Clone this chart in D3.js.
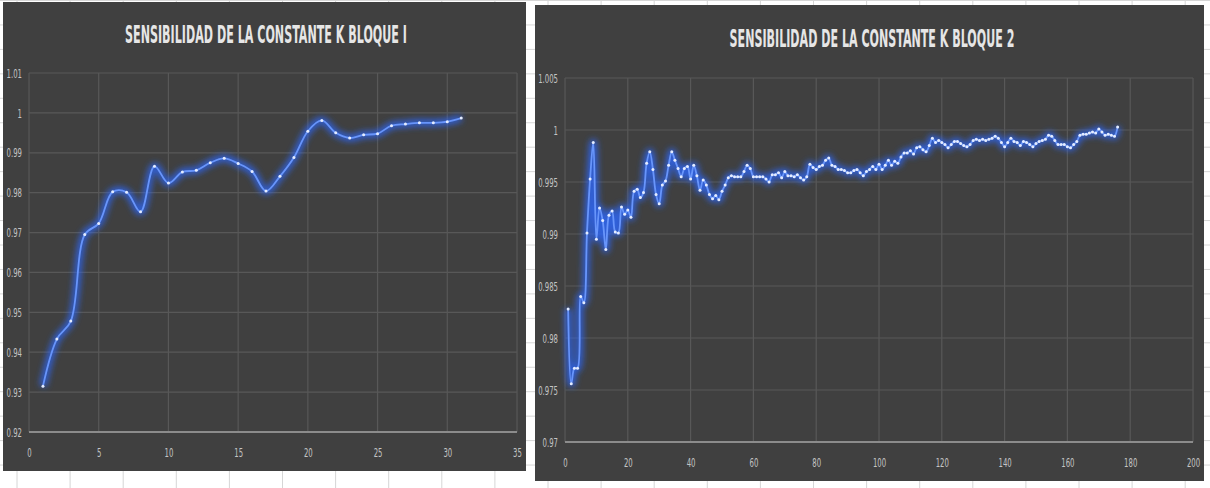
<!DOCTYPE html>
<html>
<head>
<meta charset="utf-8">
<script src="https://cdn.jsdelivr.net/npm/d3@7"></script>
<style>
  html, body { margin: 0; padding: 0; background: #ffffff; }
  svg { display: block; }
  text { font-family: "Liberation Sans Narrow", "DejaVu Sans Condensed", "Liberation Sans", sans-serif; }
</style>
</head>
<body>
<div id="chart"></div>
<script>
// titulos
const titulo1 = 'SENSIBILIDAD DE LA CONSTANTE K BLOQUE I';
const titulo2 = 'SENSIBILIDAD DE LA CONSTANTE K BLOQUE 2';

// ticks
const ticksY1 = [0.92, 0.93, 0.94, 0.95, 0.96, 0.97, 0.98, 0.99, 1, 1.01];
const ticksX1 = [0, 5, 10, 15, 20, 25, 30, 35];
const ticksY2 = [0.97, 0.975, 0.98, 0.985, 0.99, 0.995, 1, 1.005];
const ticksX2 = [0, 20, 40, 60, 80, 100, 120, 140, 160, 180, 200];

// bloque 1: valor de k por muestra (1..31)
const kBloque1 = [0.9315, 0.9433, 0.9478, 0.9695, 0.9723, 0.9802, 0.9801, 0.9752, 0.9866, 0.9824,
  0.9852, 0.9856, 0.9875, 0.9886, 0.9873, 0.9853, 0.9804, 0.9841, 0.9888, 0.9954,
  0.9981, 0.9950, 0.9937, 0.9945, 0.9948, 0.9968, 0.9972, 0.9975, 0.9975, 0.9978, 0.9987];

// bloque 2: valor de k por muestra (1..176)
const kBloque2 = [
  0.9828, 0.9756, 0.9771, 0.9771, 0.9840, 0.9834, 0.9901, 0.9953, 0.9988, 0.9895,
  0.9925, 0.9913, 0.9885, 0.9918, 0.9922, 0.9902, 0.9901, 0.9926, 0.9919, 0.9923,
  0.9916, 0.9941, 0.9943, 0.9935, 0.9940, 0.9968, 0.9979, 0.9962, 0.9938, 0.9929,
  0.9947, 0.9951, 0.9966, 0.9979, 0.9971, 0.9963, 0.9955, 0.9963, 0.9965, 0.9953,
  0.9966, 0.9956, 0.9942, 0.9952, 0.9947, 0.9938, 0.9934, 0.9937, 0.9933, 0.9941,
  0.9947, 0.9954, 0.9956, 0.9955, 0.9955, 0.9955, 0.9960, 0.9966, 0.9963, 0.9955,
  0.9955, 0.9955, 0.9955, 0.9953, 0.9950, 0.9957, 0.9957, 0.9959, 0.9954, 0.9960,
  0.9956, 0.9956, 0.9955, 0.9957, 0.9954, 0.9952, 0.9955, 0.9967, 0.9964, 0.9962,
  0.9965, 0.9966, 0.9971, 0.9973, 0.9966, 0.9965, 0.9962, 0.9962, 0.9961, 0.9959,
  0.9959, 0.9961, 0.9962, 0.9959, 0.9956, 0.9960, 0.9962, 0.9965, 0.9962, 0.9967,
  0.9962, 0.9966, 0.9971, 0.9966, 0.9970, 0.9968, 0.9974, 0.9978, 0.9978, 0.9980,
  0.9977, 0.9983, 0.9984, 0.9981, 0.9979, 0.9985, 0.9992, 0.9988, 0.9990, 0.9988,
  0.9986, 0.9983, 0.9986, 0.9989, 0.9989, 0.9987, 0.9985, 0.9984, 0.9986, 0.9990,
  0.9991, 0.9990, 0.9991, 0.9990, 0.9991, 0.9992, 0.9994, 0.9992, 0.9988, 0.9984,
  0.9988, 0.9992, 0.9989, 0.9988, 0.9985, 0.9989, 0.9988, 0.9986, 0.9984, 0.9987,
  0.9989, 0.9990, 0.9991, 0.9995, 0.9994, 0.9990, 0.9986, 0.9986, 0.9986, 0.9984,
  0.9983, 0.9986, 0.9989, 0.9995, 0.9996, 0.9996, 0.9997, 0.9998, 0.9997, 1.0001,
  0.9998, 0.9995, 0.9996, 0.9995, 0.9994, 1.0003];

const W = 1210, H = 488;

const svg = d3.select('#chart')
  .append('svg')
  .attr('width', W)
  .attr('height', H);

// glow del trazo (estilo excel)
const defs = svg.append('defs');
defs.append('filter')
  .attr('id', 'glow')
  .attr('x', '-10%').attr('y', '-10%')
  .attr('width', '120%').attr('height', '120%')
  .append('feGaussianBlur')
  .attr('stdDeviation', 3);

// cuadricula de la hoja de calculo detras
const hoja = svg.append('g');
d3.range(0, 23).forEach(k => {
  const x = 17 + 53.1 * k;
  hoja.append('line').attr('x1', x).attr('x2', x).attr('y1', 0).attr('y2', H)
    .attr('stroke', '#d6d6d6').attr('stroke-width', 1);
});
d3.range(0, 21).forEach(k => {
  const y = 24.45 * k + 0.5;
  hoja.append('line').attr('x1', 0).attr('x2', W).attr('y1', y).attr('y2', y)
    .attr('stroke', '#d6d6d6').attr('stroke-width', 1);
});

function labelLength(s) {
  let n = 0;
  for (const c of s) n += (c === '.') ? 2.2 : 4.4;
  return n;
}

function drawChart(cfg) {
  const g = svg.append('g');

  g.append('rect')
    .attr('x', cfg.panel[0]).attr('y', cfg.panel[1])
    .attr('width', cfg.panel[2]).attr('height', cfg.panel[3])
    .attr('fill', '#404040');

  const x = d3.scaleLinear().domain(cfg.xDomain).range(cfg.xRange);
  const y = d3.scaleLinear().domain(cfg.yDomain).range(cfg.yRange);

  // lineas de division
  g.append('g')
    .selectAll('line.h')
    .data(cfg.yTicks.slice(1))
    .enter().append('line')
    .attr('x1', cfg.xRange[0]).attr('x2', cfg.xRange[1])
    .attr('y1', d => y(d)).attr('y2', d => y(d))
    .attr('stroke', '#585858').attr('stroke-width', 1.2);

  g.append('g')
    .selectAll('line.v')
    .data(cfg.xTicks)
    .enter().append('line')
    .attr('x1', d => x(d)).attr('x2', d => x(d))
    .attr('y1', cfg.yRange[0]).attr('y2', cfg.yRange[1])
    .attr('stroke', '#585858').attr('stroke-width', 1.2);

  // eje x
  g.append('line')
    .attr('x1', cfg.xRange[0]).attr('x2', cfg.xRange[1])
    .attr('y1', cfg.yRange[0]).attr('y2', cfg.yRange[0])
    .attr('stroke', '#8c8c8c').attr('stroke-width', 2);

  // etiquetas
  const yAxis = d3.axisLeft(y).tickValues(cfg.yTicks).tickSize(0).tickPadding(7)
    .tickFormat(d => String(+d.toFixed(3)));
  const ya = g.append('g').attr('transform', `translate(${cfg.xRange[0]},0)`).call(yAxis);
  ya.select('.domain').remove();
  ya.selectAll('text')
    .attr('fill', '#c4c4c4')
    .attr('font-size', 13)
    .attr('textLength', function() { return labelLength(this.textContent); })
    .attr('lengthAdjust', 'spacingAndGlyphs');

  const xAxis = d3.axisBottom(x).tickValues(cfg.xTicks).tickSize(0).tickPadding(cfg.xPad)
    .tickFormat(d3.format('d'));
  const xa = g.append('g').attr('transform', `translate(0,${cfg.yRange[0]})`).call(xAxis);
  xa.select('.domain').remove();
  xa.selectAll('text')
    .attr('fill', '#c4c4c4')
    .attr('font-size', 13)
    .attr('textLength', function() { return labelLength(this.textContent); })
    .attr('lengthAdjust', 'spacingAndGlyphs');

  // titulo: medido y comprimido en horizontal al ancho del original
  const t = g.append('text')
    .attr('x', 0).attr('y', 0)
    .attr('text-anchor', 'middle')
    .attr('fill', '#e6e6e6')
    .attr('font-size', 25)
    .attr('font-weight', 'bold')
    .text(cfg.title);
  const sx = cfg.titleWidth / t.node().getComputedTextLength();
  t.attr('transform', `translate(${cfg.titlePos[0]},${cfg.titlePos[1]}) scale(${sx},1)`);

  // serie
  const pts = cfg.values.map((v, i) => ({ n: i + 1, v: v }));
  const line = d3.line()
    .x(d => x(d.n))
    .y(d => y(d.v))
    .curve(d3.curveCatmullRom.alpha(0.5));

  g.append('path')
    .datum(pts)
    .attr('d', line)
    .attr('fill', 'none')
    .attr('stroke', '#2a68ff')
    .attr('stroke-width', 7)
    .attr('stroke-opacity', 0.8)
    .attr('filter', 'url(#glow)');

  g.append('path')
    .datum(pts)
    .attr('d', line)
    .attr('fill', 'none')
    .attr('stroke', '#6895fb')
    .attr('stroke-width', 1.8);

  g.append('g')
    .selectAll('circle')
    .data(pts)
    .enter().append('circle')
    .attr('cx', d => x(d.n))
    .attr('cy', d => y(d.v))
    .attr('r', 1.5)
    .attr('fill', '#e4ecff');
}

drawChart({
  panel: [3, 2, 523, 469],
  xDomain: [0, 35], xRange: [29, 517],
  yDomain: [0.92, 1.01], yRange: [432, 73],
  xTicks: ticksX1, yTicks: ticksY1, xPad: 16,
  title: titulo1, titlePos: [266, 43], titleWidth: 282,
  values: kBloque1
});

drawChart({
  panel: [535, 5, 669, 476],
  xDomain: [0, 200], xRange: [565, 1193],
  yDomain: [0.97, 1.005], yRange: [442, 78],
  xTicks: ticksX2, yTicks: ticksY2, xPad: 16,
  title: titulo2, titlePos: [872, 47], titleWidth: 285,
  values: kBloque2
});
</script>
</body>
</html>
